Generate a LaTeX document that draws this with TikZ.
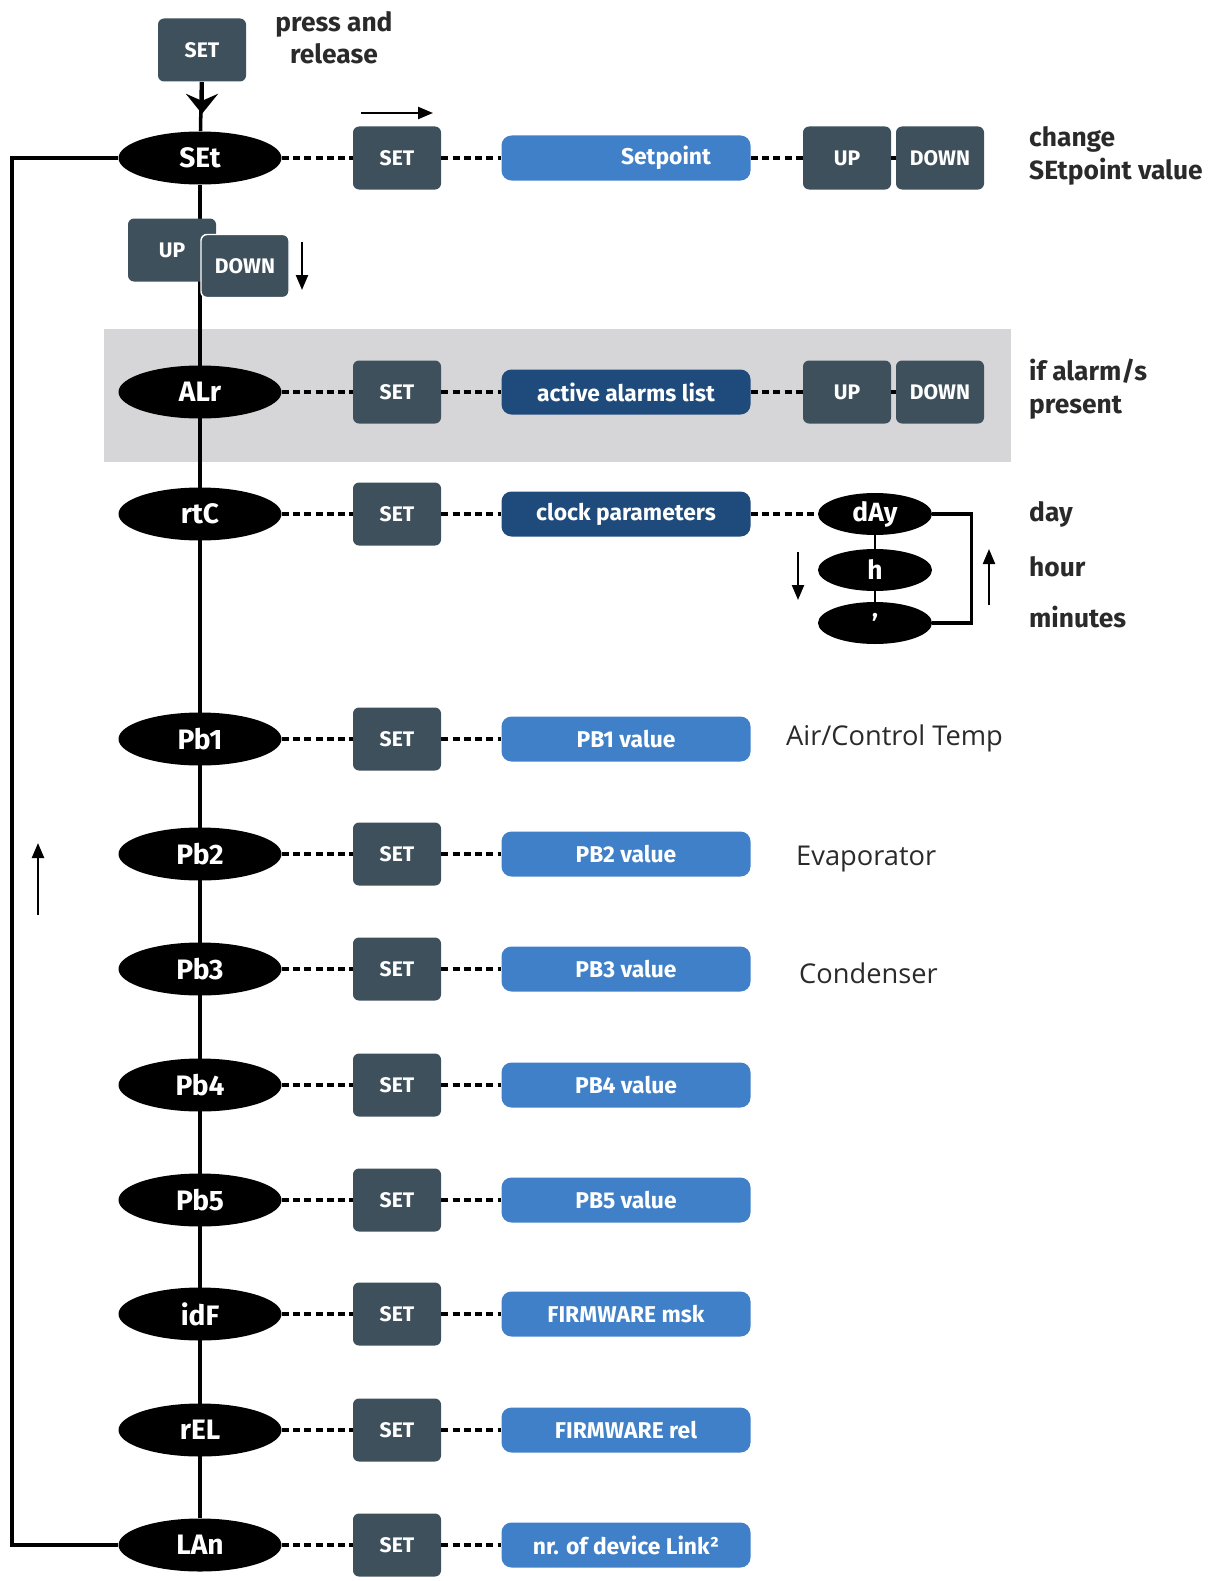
\documentclass[tikz,border=0pt]{standalone}
\usepackage{fontspec}
\setmainfont{Fira Sans}
\newfontfamily\notefont{Open Sans}
\usetikzlibrary{shapes.geometric,arrows.meta,backgrounds}
\definecolor{btngray}{HTML}{3E505B}
\definecolor{valblue}{HTML}{3F80C8}
\definecolor{valdark}{HTML}{1E4A7C}
\definecolor{bandgray}{HTML}{D6D6D8}
\definecolor{inktext}{HTML}{2A2A2A}
\tikzset{
 menuitem/.style={ellipse, fill=black, text=white, font=\bfseries\fontsize{16}{16}\selectfont,
   minimum width=32.6mm, minimum height=10.6mm, inner sep=0pt},
 subitem/.style={menuitem, minimum width=22.8mm, minimum height=8.4mm, font=\bfseries\fontsize{15}{15}\selectfont},
 keybtn/.style={rectangle, rounded corners=1.2mm, fill=btngray, text=white, font=\bfseries\fontsize{12}{12}\selectfont,
   minimum width=17.6mm, minimum height=12.6mm, inner sep=0pt},
 valbox/.style={rectangle, rounded corners=2mm, fill=valblue, text=white, font=\bfseries\fontsize{13}{13}\selectfont,
   minimum width=49.8mm, minimum height=9mm, inner sep=0pt},
 darkbox/.style={valbox, fill=valdark},
 dotlink/.style={line width=2.2pt, dash pattern=on 4pt off 2.4pt},
 spineline/.style={line width=2pt},
 remark/.style={font=\bfseries\fontsize{15}{19}\selectfont, text=inktext, align=left, anchor=west},
 sidetext/.style={font=\notefont\fontsize{15.5}{18}\selectfont, text=inktext, anchor=west},
 flowarrow/.style={line width=1.3pt, -{Triangle[length=3mm,width=2.4mm]}}
}
\begin{document}
\begin{tikzpicture}[x=0.2mm, y=-0.2mm]
\useasboundingbox (0,0) rectangle (1227,1581);

% entry
\node[keybtn] (set0) at (202,50) {SET};
\node[font=\bfseries\fontsize{15}{18}\selectfont, text=inktext, align=center] (press) at (334,38) {press and\\release};

% SEt row
\node[menuitem] (SEt) at (200,158) {SEt};
\node[keybtn] (setA) at (397,158) {SET};
\node[valbox] (valSet) at (626,158) {\hspace*{16mm}Setpoint};
\node[keybtn] (upA) at (847,158) {UP};
\node[keybtn] (dnA) at (940,158) {DOWN};
\node[remark] (chg) at (1023,156) {change\\SEtpoint value};
\draw[dotlink] (SEt) -- (setA) -- (valSet) -- (upA);
\draw[dotlink] (upA) -- (dnA);
\draw[flowarrow] (361,113) -- (433,113);

% scroll keys
\node[keybtn] (up1) at (172,250) {UP};
\node[keybtn, draw=white, line width=0.8pt] (dn1) at (245,266) {DOWN};
\draw[flowarrow] (302,242) -- (302,290);

% ALr row
\node[menuitem] (ALr) at (200,392) {ALr};
\node[keybtn] (setB) at (397,392) {SET};
\node[darkbox] (valAlr) at (626,392) {active alarms list};
\node[keybtn] (upB) at (847,392) {UP};
\node[keybtn] (dnB) at (940,392) {DOWN};
\node[remark] (alm) at (1023,389) {if alarm/s\\present};
\draw[dotlink] (ALr) -- (setB) -- (valAlr) -- (upB);
\draw[dotlink] (upB) -- (dnB);

% rtC row
\node[menuitem] (rtC) at (200,514) {rtC};
\node[keybtn] (setC) at (397,514) {SET};
\node[darkbox] (clock) at (626,514) {clock parameters};
\node[subitem] (dAy) at (875,514) {dAy};
\node[subitem] (hh) at (875,570) {h};
\node[subitem] (mm) at (875,623) {'};
\draw[dotlink] (rtC) -- (setC) -- (clock) -- (dAy);
\draw[spineline] (dAy.east) -- ++(39,0) |- (mm.east);
\draw[flowarrow] (798,552) -- (798,600);
\draw[flowarrow] (989,605) -- (989,549);
\node[remark] (lday) at (1023,514) {day};
\node[remark] (lhour) at (1023,567) {hour};
\node[remark] (lmin) at (1023,617) {minutes};

% probe and info rows
\foreach \lbl/\val/\y in {Pb1/PB1 value/739, Pb2/PB2 value/854, Pb3/PB3 value/969,
  Pb4/PB4 value/1085, Pb5/PB5 value/1200, idF/FIRMWARE msk/1314,
  rEL/FIRMWARE rel/1430, LAn/nr. of device Link²/1545} {
  \node[menuitem] (\lbl) at (200,\y) {\lbl};
  \node[keybtn] (set\lbl) at (397,\y) {SET};
  \node[valbox] (val\lbl) at (626,\y) {\val};
  \draw[dotlink] (\lbl) -- (set\lbl) -- (val\lbl);
}
\node[sidetext] (air) at (780,738) {Air/Control Temp};
\node[sidetext] (evap) at (790,859) {Evaporator};
\node[sidetext] (cond) at (793,973) {Condenser};

% return path
\coordinate (lp) at (12,800);
\draw[spineline] (LAn.west) -| (lp) |- (SEt.west);
\draw[flowarrow] (38,915) -- (38,843);

\begin{scope}[on background layer]
 \fill[bandgray] (104,329) rectangle (1011,462);
 \draw[spineline] (set0) -- (SEt);
 \draw[spineline, -{Stealth[length=4mm,width=6.4mm,inset=1.4mm]}] (set0.south) -- ++(0,32);
 \draw[spineline] (SEt) -- (LAn);
 \draw[line width=1.4pt] (dAy) -- (mm);
\end{scope}
\end{tikzpicture}
\end{document}
